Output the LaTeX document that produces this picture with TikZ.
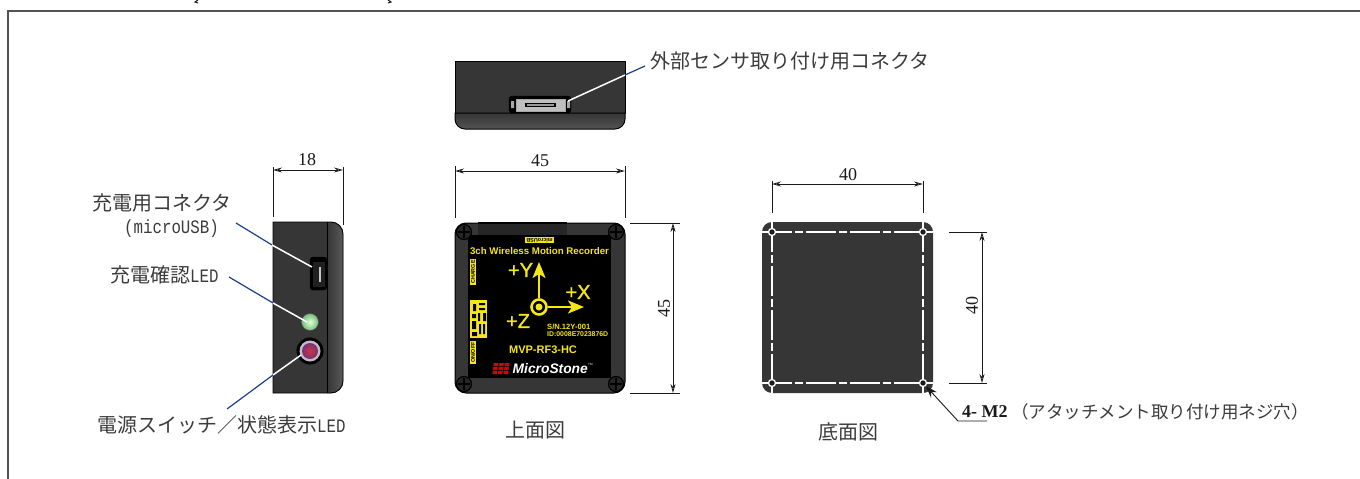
\documentclass[tikz,border=0pt]{standalone}
\usepackage{fontspec}
\setmainfont{Liberation Serif}
\newfontfamily\jp{Noto Sans CJK JP}
\newfontfamily\mn[FakeStretch=0.83]{Liberation Mono}
\newfontfamily\sn{Liberation Sans}
\newfontfamily\snf[FakeBold=1.2]{Liberation Sans}
\usetikzlibrary{arrows.meta,calc}
\definecolor{bodyc}{HTML}{363636}
\definecolor{leadc}{HTML}{1B3F8F}
\definecolor{inkc}{HTML}{1A1A1A}
\definecolor{yel}{HTML}{F5E614}
\tikzset{
 x=1pt,y=-1pt,
 dimline/.style={draw=inkc,line width=.8pt,{Stealth[length=9pt,width=5pt,open]}-{Stealth[length=9pt,width=5pt,open]}},
 extline/.style={draw=inkc,line width=.9pt},
 dimtext/.style={font=\fontsize{18}{18}\selectfont,inner sep=0pt,text=inkc},
 jptext/.style={font=\jp\fontsize{20}{22}\selectfont,inner sep=0pt,text=inkc!85,anchor=west},
 blueline/.style={draw=leadc,line width=1.2pt},
 whiteline/.style={draw=white,line width=1.5pt},
 ytext/.style={font=\sn\bfseries,text=yel,inner sep=0pt},
 ytag/.style={fill=yel,text=black,inner sep=1pt,font=\sn\bfseries\fontsize{5.4}{6}\selectfont},
 axistext/.style={text=yel,inner sep=0pt,font=\snf\fontsize{20}{20}\selectfont},
 axisarrow/.style={yel,line width=2.2pt,-{Stealth[length=16pt,width=13pt,inset=4pt]}},
 screw/.style={draw=black,line width=1.2pt,fill=bodyc!70!black,circle,minimum size=15pt,inner sep=0pt},
 holec/.style={draw=white,line width=1.3pt,fill=bodyc!50!black,circle,minimum size=7pt,inner sep=0pt},
 whitedash/.style={draw=white,line width=1.3pt,dash pattern=on 30pt off 3pt on 8pt off 3pt},
}
\begin{document}
\begin{tikzpicture}
\useasboundingbox (0,0) rectangle (1360,479);
\fill[white] (0,0) rectangle (1360,479);
% frame
\coordinate (fa) at (8,479); \coordinate (fb) at (8,11); \coordinate (fc) at (1360,11);
\draw[draw=inkc!75,line width=1.4pt] (fa)--(fb)--(fc);
\draw[inkc,line width=1pt] (198,0)--(195,2)--(198,3) (388,0)--(391,2)--(388,3);
% ===== rear view
\filldraw[fill=bodyc,draw=black,line width=1pt] (455,61)--(625,61)--(625,113)--(455,113)--cycle;
\shade[top color=bodyc,bottom color=gray!65!black] (455,113) -- (455,119) arc[start angle=180,end angle=90,radius=10] -- (615,129) arc[start angle=90,end angle=0,radius=10] -- (625,113) -- cycle;
\draw[black,line width=1pt] (455,113) -- (455,119) arc[start angle=180,end angle=90,radius=10] -- (615,129) arc[start angle=90,end angle=0,radius=10] -- (625,113) -- cycle;
\filldraw[fill=black,draw=black,rounded corners=3pt] (509,96) rectangle (571,113);
\filldraw[fill=gray!50,draw=gray!70] (516,99) rectangle (565,111);
\fill[gray!70] (511,101) rectangle (514,108) (567,101) rectangle (570,108);
\fill[black] (525,103) rectangle (556,107);
\fill[gray!80] (527,104) rectangle (554,106);
\coordinate (rc) at (568,101); \coordinate (rb) at (625,75); \coordinate (ra) at (645,66);
\draw[whiteline] (rc)--(rb);
\draw[blueline] (rb)--(ra);
\node[jptext] (extlabel) at (650,61) {外部センサ取り付け用コネクタ};
% ===== side view
\fill[bodyc] (273,222) -- (331,222) arc[start angle=-90,end angle=0,radius=12] -- (343,381) arc[start angle=0,end angle=90,radius=12] -- (273,393) -- cycle;
\shade[left color=bodyc,right color=gray!70!black] (327,222) -- (331,222) arc[start angle=-90,end angle=0,radius=12] -- (343,381) arc[start angle=0,end angle=90,radius=12] -- (327,393) -- cycle;
\draw[black,line width=.9pt] (273,222) -- (331,222) arc[start angle=-90,end angle=0,radius=12] -- (343,381) arc[start angle=0,end angle=90,radius=12] -- (273,393) -- cycle;
\draw[black,line width=.7pt] (327,222)--(327,393);
\filldraw[fill=black,draw=black,rounded corners=3pt] (310,257) rectangle (327,290);
\fill[bodyc!60!black] (313,262) rectangle (325,287);
\fill[gray!45] (319,267) rectangle (321,282);
\node[circle,minimum size=17pt,inner sep=0pt,draw=black!70,inner color=green!12!white,outer color=green!35!gray!80] (gled) at (310,322) {};
\node[circle,minimum size=27pt,inner sep=0pt,fill=black] (swo) at (310,351) {};
\node[circle,minimum size=21pt,inner sep=0pt,fill=gray!50] (swm) at (310,351) {};
\node[circle,minimum size=16pt,inner sep=0pt,inner color=red!55!gray,outer color=violet!65!gray] (swi) at (310,351) {};
\coordinate (c1a) at (236,223); \coordinate (c1b) at (272,245); \coordinate (c1c) at (312,267);
\draw[blueline] (c1a)--(c1b); \draw[whiteline] (c1b)--(c1c);
\coordinate (c2a) at (229,277); \coordinate (c2b) at (273,303); \coordinate (c2c) at (307,322);
\draw[blueline] (c2a)--(c2b); \draw[whiteline] (c2b)--(c2c);
\coordinate (c3a) at (227,409); \coordinate (c3b) at (273,375); \coordinate (c3c) at (301,355);
\draw[blueline] (c3a)--(c3b); \draw[whiteline] (c3b)--(c3c);
\node[jptext] (l1) at (92,203) {充電用コネクタ};
\node[anchor=west,inner sep=0pt,font=\mn\fontsize{19}{19}\selectfont,text=inkc!85] (l1b) at (124,229) {(microUSB)};
\node[jptext] (l2) at (110,275) {充電確認\mn\fontsize{19}{19}\selectfont LED};
\node[jptext] (l3) at (97,425) {電源スイッチ／状態表示\mn\fontsize{19}{19}\selectfont LED};
% dims side
\coordinate (s1) at (273,167); \coordinate (s2) at (273,217); \coordinate (s3) at (343,167); \coordinate (s4) at (343,225);
\draw[extline] (s1)--(s2); \draw[extline] (s3)--(s4);
\coordinate (sa) at (273,170); \coordinate (sb) at (343,170);
\draw[dimline] (sa)--(sb);
\node[dimtext] (d18) at (307,160) {18};
% ===== top view
\filldraw[fill=bodyc,draw=black,line width=1pt,rounded corners=11pt] (455,223) rectangle (625,393);
\fill[black] (468,235) rectangle (611,378);
\fill[black!85] (478,223) rectangle (567,235);
\fill[black] (478,221.5) rectangle (567,224);
\foreach \n/\px/\py in {sa1/464/232,sa2/616/232,sa3/464/384,sa4/616/384}{
 \node[screw] (\n) at (\px,\py) {};
 \draw[black,line width=1.4pt] (\px-6,\py)--(\px+6,\py) (\px,\py-6)--(\px,\py+6);
}
% yellow marks
\node[ytag,rotate=180] (usb) at (539.5,240) {microUSB};
\node[ytext,font=\sn\bfseries\fontsize{9.7}{10}\selectfont] (t1) at (539.5,251.5) {3ch Wireless Motion Recorder};
\node[ytag,rotate=90] (chg) at (473,272) {CHARGE};
\node[ytag,rotate=90] (onoff) at (473,352.5) {ON/OFF};
\fill[yel] (470,300) rectangle (487,338);
\fill[black] (473,304) rectangle (476,311) (479,303) rectangle (485,305) (479,308) rectangle (485,310)
 (478,313) rectangle (480,321) (483,313) rectangle (486,321) (472,314) rectangle (476,318) (472,321) rectangle (476,329)
 (479,324) rectangle (481,334) (483,324) rectangle (485,334) (472,332) rectangle (477,336);
\node[axistext] (py) at (520.5,270) {+Y};
\node[axistext] (px) at (578,292) {+X};
\node[axistext] (pz) at (518,321) {+Z};
\node[circle,draw=yel,line width=2.6pt,minimum size=15pt,inner sep=0pt,fill=black] (orig) at (539,307) {};
\node[circle,fill=yel,minimum size=7pt,inner sep=0pt] (origin) at (539,307) {};
\coordinate (yt) at (539,262); \coordinate (xt) at (584,307);
\draw[axisarrow] (orig)--(yt);
\draw[axisarrow] (orig)--(xt);
\node[ytext,anchor=west,font=\sn\bfseries\fontsize{7.6}{8}\selectfont] (sn) at (547,327) {S/N.12Y-001};
\node[ytext,anchor=west,font=\sn\bfseries\fontsize{6.9}{7}\selectfont] (idn) at (547,334) {ID:0008E7023876D};
\node[ytext,font=\sn\bfseries\fontsize{11}{11}\selectfont] (model) at (543,350) {MVP-RF3-HC};
\foreach \cx/\cy in {0/0,1/0,2/0,0/1,1/1,2/1,0/2,1/2,2/2}{
 \fill[red!85!black] (493.8+\cx*5.6-\cy*.5,363+\cy*3.9) -- (498.3+\cx*5.6-\cy*.5,363+\cy*3.9) -- (497.8+\cx*5.6-\cy*.5,366.2+\cy*3.9) -- (493.3+\cx*5.6-\cy*.5,366.2+\cy*3.9) -- cycle;
}
\node[anchor=west,inner sep=0pt,font=\sn\bfseries\itshape\fontsize{13.8}{14}\selectfont,text=white] (ms) at (512.5,369) {MicroStone};
\node[anchor=west,inner sep=0pt,font=\sn\fontsize{3}{3}\selectfont,text=white] (tm) at (588,364) {TM};
% dims top
\coordinate (e1) at (455,166); \coordinate (e2) at (455,218); \coordinate (e3) at (625,166); \coordinate (e4) at (625,218);
\draw[extline] (e1)--(e2); \draw[extline] (e3)--(e4);
\coordinate (ea) at (455,171); \coordinate (eb) at (625,171);
\draw[dimline] (ea)--(eb);
\node[dimtext] (d45a) at (540,161) {45};
\coordinate (e5) at (630,223); \coordinate (e6) at (680,223); \coordinate (e7) at (630,393); \coordinate (e8) at (680,393);
\draw[extline] (e5)--(e6); \draw[extline] (e7)--(e8);
\coordinate (ec) at (673,223); \coordinate (ed) at (673,393);
\draw[dimline] (ec)--(ed);
\node[dimtext,rotate=90] (d45b) at (664,308) {45};
\node[jptext] (topcap) at (505,430) {上面図};
% ===== bottom view
\fill[bodyc,rounded corners=10pt] (762,222) rectangle (933,393);
\coordinate (h1w) at (762,232); \coordinate (h2e) at (933,232);
\coordinate (h4w) at (762,383); \coordinate (h3e) at (933,383);
\coordinate (h1n) at (772,222); \coordinate (h4s) at (772,393);
\coordinate (h2n) at (923,222); \coordinate (h3s) at (923,393);
\draw[whitedash] (h1w)--(h2e);
\draw[whitedash] (h4w)--(h3e);
\draw[whitedash] (h1n)--(h4s);
\draw[whitedash] (h2n)--(h3s);
\node[holec] (h1) at (772,232) {};
\node[holec] (h2) at (923,232) {};
\node[holec] (h3) at (923,383) {};
\node[holec] (h4) at (772,383) {};
\coordinate (b1) at (772,181); \coordinate (b2) at (772,213); \coordinate (b3) at (923,181); \coordinate (b4) at (923,213);
\draw[extline] (b1)--(b2); \draw[extline] (b3)--(b4);
\coordinate (ba) at (772,184); \coordinate (bb) at (923,184);
\draw[dimline] (ba)--(bb);
\node[dimtext] (d40a) at (848,175) {40};
\coordinate (b5) at (949,232); \coordinate (b6) at (987,232); \coordinate (b7) at (949,383); \coordinate (b8) at (987,383);
\draw[extline] (b5)--(b6); \draw[extline] (b7)--(b8);
\coordinate (bc) at (982,232); \coordinate (bd) at (982,383);
\draw[dimline] (bc)--(bd);
\node[dimtext,rotate=90] (d40b) at (972,305) {40};
\coordinate (la) at (958,421); \coordinate (lb) at (987,421);
\draw[inkc,line width=.9pt,{Stealth[length=12pt,width=8pt]}-] (h3) -- (la) -- (lb);
\node[anchor=west,inner sep=0pt,font=\fontsize{18}{18}\selectfont\bfseries,text=inkc] (m2) at (962,412) {4- M2};
\node[anchor=west,inner sep=0pt,font=\jp\fontsize{17.5}{18}\selectfont,text=inkc!85] (m2b) at (1011,412) {（アタッチメント取り付け用ネジ穴）};
\node[jptext] (botcap) at (818,432) {底面図};
\end{tikzpicture}
\end{document}
